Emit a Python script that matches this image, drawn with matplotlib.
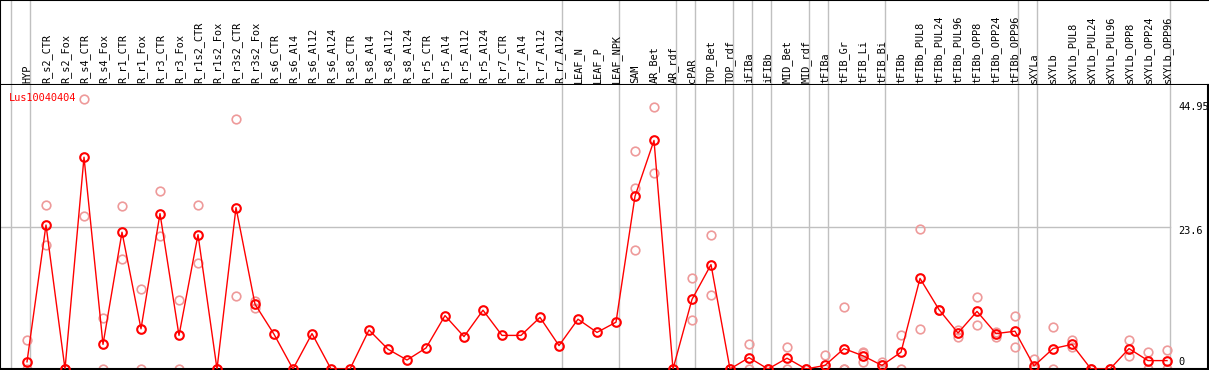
import numpy as np
import matplotlib
matplotlib.use("Agg")
import matplotlib.pyplot as plt
from matplotlib import transforms

gene = "Lus10040404"

labels = ["HYP",
          "R_s2_CTR", "R_s2_Fox", "R_s4_CTR", "R_s4_Fox", "R_r1_CTR", "R_r1_Fox",
          "R_r3_CTR", "R_r3_Fox", "R_r1s2_CTR", "R_r1s2_Fox", "R_r3s2_CTR", "R_r3s2_Fox",
          "R_s6_CTR", "R_s6_Al4", "R_s6_Al12", "R_s6_Al24",
          "R_s8_CTR", "R_s8_Al4", "R_s8_Al12", "R_s8_Al24",
          "R_r5_CTR", "R_r5_Al4", "R_r5_Al12", "R_r5_Al24",
          "R_r7_CTR", "R_r7_Al4", "R_r7_Al12", "R_r7_Al24",
          "LEAF_N", "LEAF_P", "LEAF_NPK",
          "SAM", "AR_Bet", "AR_rdf",
          "cPAR", "TOP_Bet", "TOP_rdf",
          "iFIBa", "iFIBb", "MID_Bet", "MID_rdf",
          "tFIBa", "tFIB_Gr", "tFIB_Li", "tFIB_Bi",
          "tFIBb", "tFIBb_PUL8", "tFIBb_PUL24", "tFIBb_PUL96",
          "tFIBb_OPP8", "tFIBb_OPP24", "tFIBb_OPP96",
          "sXYLa",
          "sXYLb", "sXYLb_PUL8", "sXYLb_PUL24", "sXYLb_PUL96",
          "sXYLb_OPP8", "sXYLb_OPP24", "sXYLb_OPP96"]

means = [1.2,
         24.0, 0, 35.3, 4.1, 22.8, 6.7, 25.9, 5.6, 22.4, 0, 26.9, 10.8,
         5.8, 0, 5.9, 0,
         0, 6.5, 3.3, 1.5,
         3.5, 8.9, 5.4, 9.8,
         5.6, 5.6, 8.6, 3.9,
         8.3, 6.1, 7.8,
         28.8, 38.1, 0,
         11.6, 17.4, 0,
         1.9, 0, 1.8, 0,
         0.6, 3.4, 2.2, 0.6,
         2.8, 15.1, 9.9, 6.0, 9.6, 5.9, 6.3,
         0.5,
         3.4, 4.1, 0, 0, 3.4, 1.4, 1.4]

reps = [[4.8, 0],
        [27.3, 20.6], [0, 0], [44.95, 25.5], [8.5, 0], [27.2, 18.4], [13.4, 0],
        [29.6, 22.1], [11.5, 0], [27.3, 17.6], [0, 0], [41.6, 12.2], [11.3, 10.2],
        [], [], [], [],
        [], [], [], [],
        [], [], [], [],
        [], [], [], [],
        [], [], [],
        [36.4, 30.1, 19.8], [43.6, 32.6], [0, 0],
        [15.1, 8.1], [22.4, 12.4], [0, 0],
        [4.1, 0], [0, 0], [3.7, 0], [0, 0],
        [2.3, 0], [10.4, 0, 0], [2.9, 2.6, 1.1], [1.2, 0.6, 0],
        [5.6, 0], [23.4, 6.6], [9.9, 9.9], [6.5, 5.3], [12.0, 7.3], [6.1, 5.3], [8.8, 3.7],
        [1.7, 0],
        [7.0, 0], [4.8, 3.7], [0, 0], [0, 0], [4.8, 2.1], [2.9, 0], [3.1, 0]]

# last index of each group (vertical separators)
group_ends = [-1, 0, 28, 31, 34, 35, 37, 38, 39, 41, 42, 45, 52, 53, 60]

yticks = [0, 23.6, 44.95]

W, H = 1209, 370
fig = plt.figure(figsize=(W / 100, H / 100), dpi=100)
plt.rcParams["font.family"] = "DejaVu Sans Mono"

x = np.arange(len(labels))
xmin = -27 / 19
xmax = (1207.5 - 27) / 19
grey = "#c0c0c0"
fs = 7.4

# header with sample names
hax = fig.add_axes([0, (H - 85) / H, 1, 85 / H])
hax.set_xlim(-27 / 19, (W - 27) / 19)
hax.set_ylim(0, 85)
hax.set_xticks([])
hax.set_yticks([])
for s in ["top", "bottom", "left"]:
    hax.spines[s].set_color("black")
    hax.spines[s].set_linewidth(1.5)
hax.spines["right"].set_visible(False)
for g in group_ends:
    hax.axvline(g + 3 / 19, color=grey, lw=1)
for i, lab in enumerate(labels):
    hax.text(i + 0.02, 2, lab, rotation=90, ha="center", va="bottom", fontsize=fs)

# main plot
ax = fig.add_axes([0, 1 / H, 1207.5 / W, 284 / H])
ax.set_xlim(xmin, xmax)
ax.set_ylim(0, 284 / 6.0)
ax.set_xticks([])
ax.set_yticks([])
ax.spines["top"].set_visible(False)
for s in ["bottom", "left", "right"]:
    ax.spines[s].set_color("black")
    ax.spines[s].set_linewidth(1.5)
for g in group_ends:
    ax.axvline(g + 3 / 19, color=grey, lw=1, zorder=1)
ax.plot([xmin, group_ends[-1] + 3 / 19], [23.6, 23.6], color=grey, lw=1, zorder=1)

rx = [i for i, r in enumerate(reps) for _ in r]
ry = [v for r in reps for v in r]
ax.plot(rx, ry, "o", ms=6.2, mfc="none", mec="#ee9a9a", mew=1.2, zorder=2)
ax.plot(x, means, "-", color="red", lw=1.0, zorder=3)
ax.plot(x, means, "o", ms=6.2, mfc="none", mec="red", mew=1.5, zorder=4)

ax.text(0.0075, 0.955, gene, transform=ax.transAxes, color="red", fontsize=fs,
        ha="left", va="center")

tx = (1178 - 27) / 19
ax.text(tx, 44.95, "44.95", fontsize=fs, ha="left",
        transform=transforms.offset_copy(ax.transData, fig=fig, y=-8 / 100 * 72, units="points"),
        va="center")
ax.text(tx, 23.6, "23.6", fontsize=fs, ha="left",
        transform=transforms.offset_copy(ax.transData, fig=fig, y=-4 / 100 * 72, units="points"),
        va="center")
ax.text(tx, 0, "0", fontsize=fs, ha="left",
        transform=transforms.offset_copy(ax.transData, fig=fig, y=7 / 100 * 72, units="points"),
        va="center")

fig.savefig("out.png", dpi=100)
